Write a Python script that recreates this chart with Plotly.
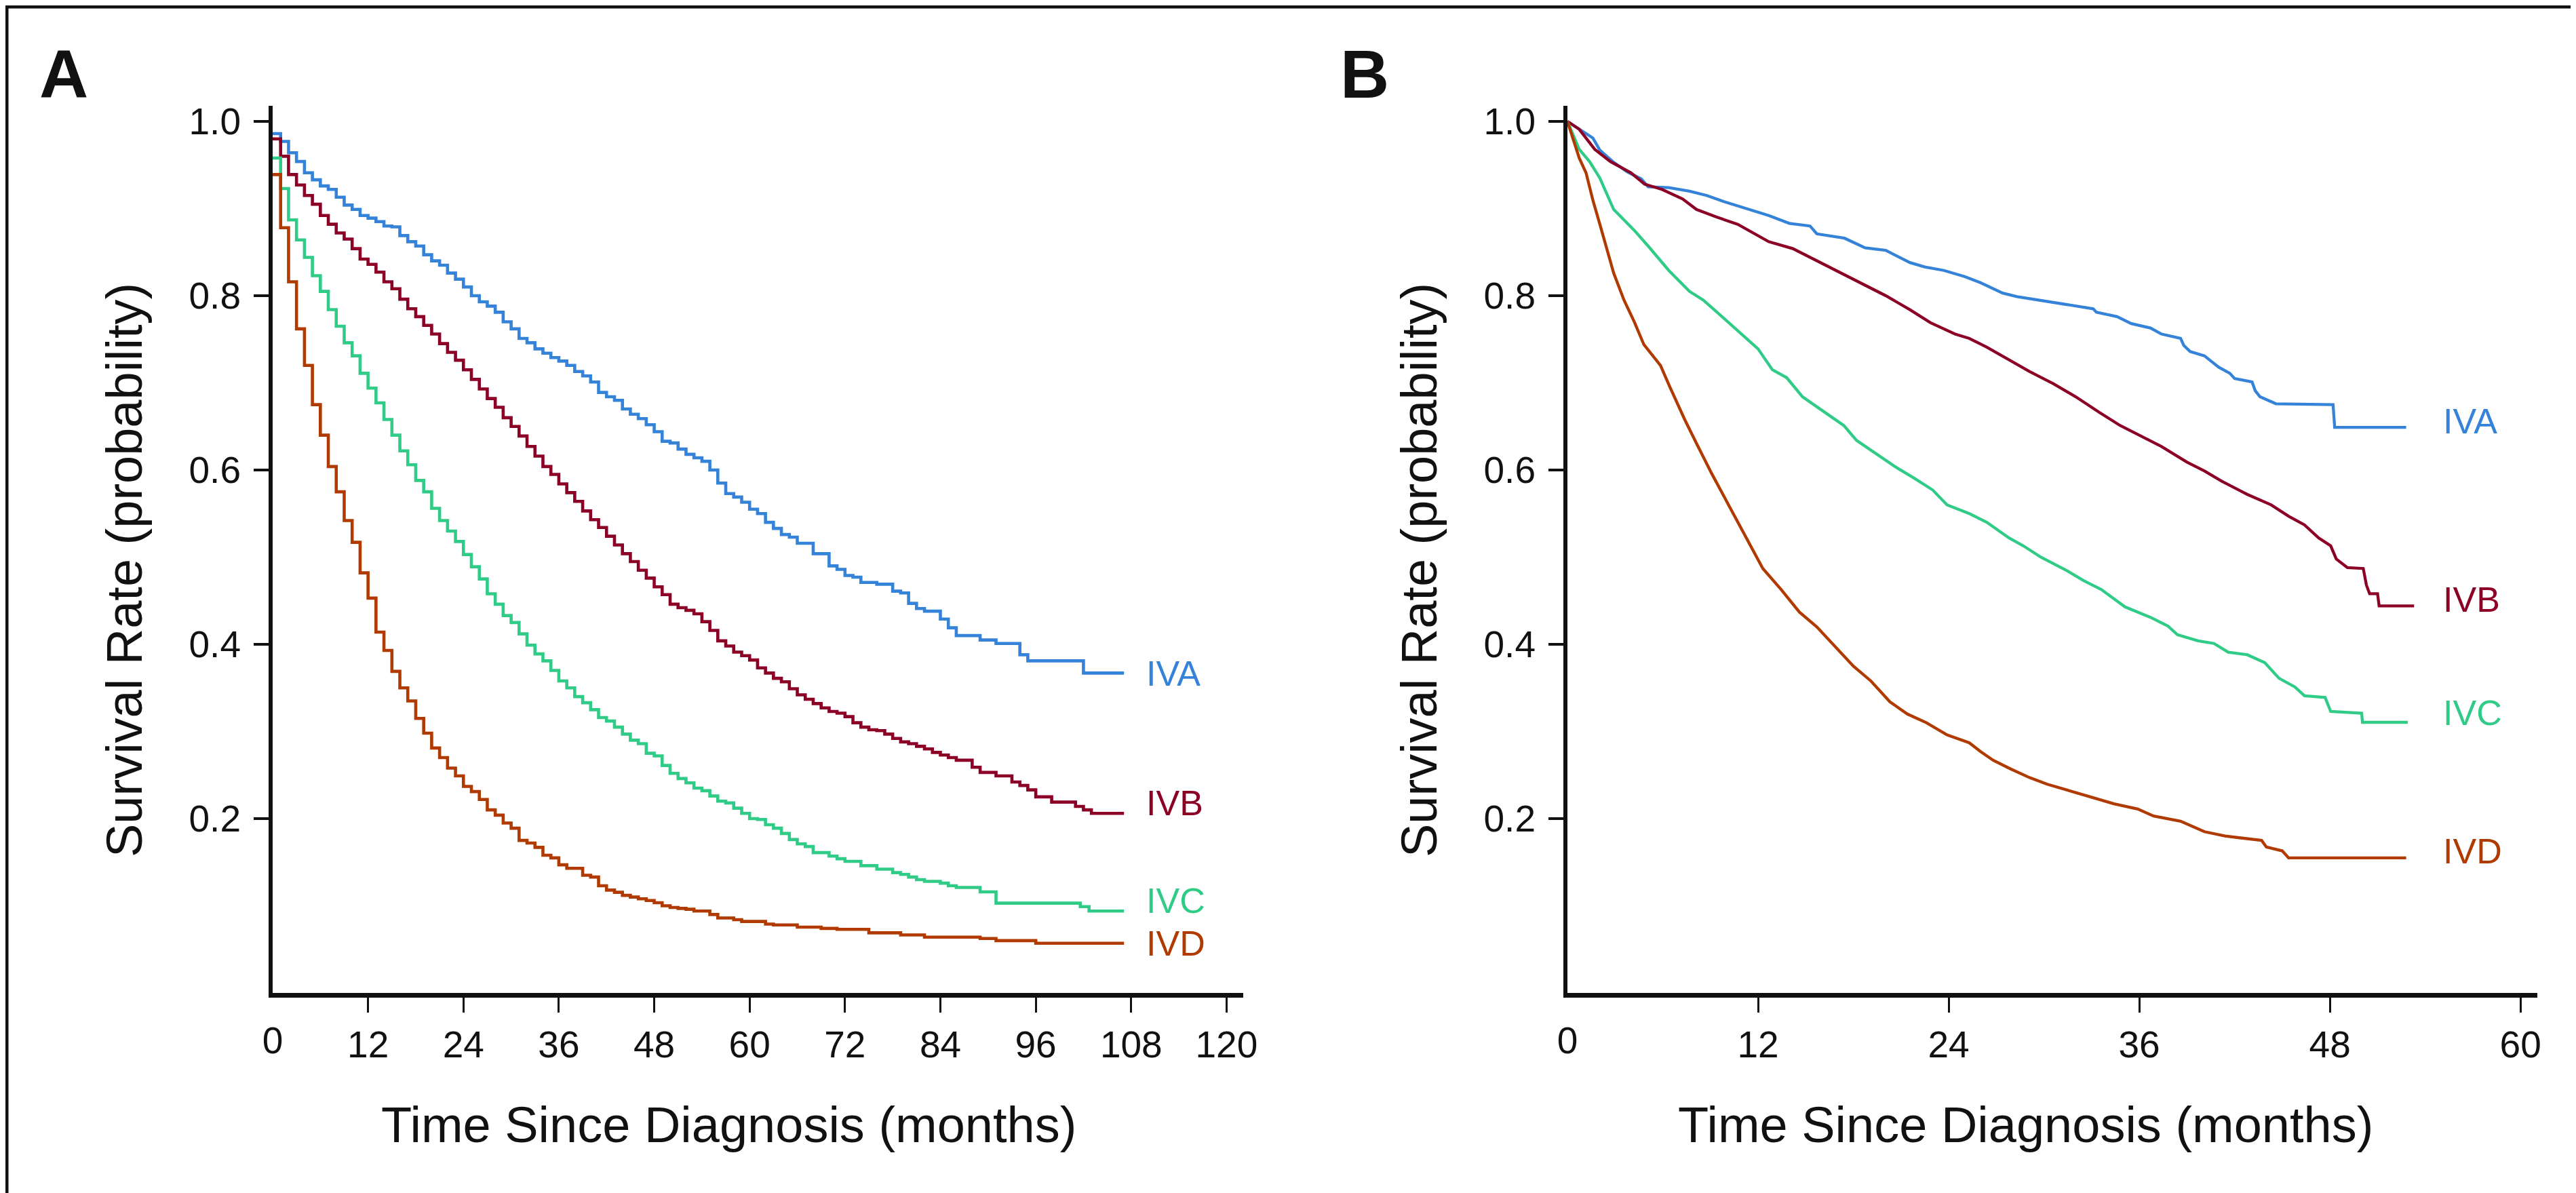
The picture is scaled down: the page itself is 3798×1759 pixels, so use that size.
import plotly.graph_objects as go

W, H = 3798, 1759

# ---------------- Panel A data (Kaplan-Meier steps, months) ----------------
a_iva_t = [0, 1, 2, 3, 4, 5, 6, 7, 8, 9, 10, 11, 12, 13, 14, 15, 16, 17, 18, 19,
           20, 21, 22, 23, 24, 25, 26, 27, 28, 29, 30, 31, 32, 33, 34, 35, 36, 37, 38, 39,
           40, 41, 42, 43, 44, 45, 46, 47, 48, 49, 50, 51, 52, 53,
           54, 55, 56, 57, 58, 59, 60, 61, 62, 63, 64, 65, 66, 68, 70, 71, 72, 73, 74, 76,
           78, 79, 80, 81, 82, 84, 85, 86, 89, 91, 94, 95, 102, 107.1]
a_iva_v = [0.986, 0.977, 0.964, 0.954, 0.941, 0.933, 0.926, 0.922, 0.913, 0.904,
           0.899, 0.892, 0.889, 0.885, 0.880, 0.879, 0.869, 0.862, 0.857, 0.847,
           0.840, 0.835, 0.826, 0.819, 0.810, 0.800, 0.793, 0.788, 0.781, 0.770,
           0.762, 0.751, 0.746, 0.739, 0.734, 0.729, 0.725, 0.720, 0.713, 0.708,
           0.701, 0.689, 0.684, 0.680, 0.670, 0.664, 0.659, 0.652, 0.644, 0.633,
           0.631, 0.624, 0.618, 0.614,
           0.610, 0.600, 0.585, 0.573, 0.569, 0.563, 0.555, 0.550, 0.540, 0.533,
           0.526, 0.523, 0.516, 0.504, 0.490, 0.486, 0.479, 0.477, 0.471, 0.469,
           0.461, 0.459, 0.447, 0.441, 0.438, 0.429, 0.419, 0.410, 0.405, 0.401,
           0.388, 0.381, 0.367, 0.367]

a_ivb_t = [0, 1, 2, 3, 4, 5, 6, 7, 8, 9, 10, 11, 12, 13, 14, 15, 16, 17, 18, 19,
           20, 21, 22, 23, 24, 25, 26, 27, 28, 29, 30, 31, 32, 33, 34, 35, 36, 37, 38, 39,
           40, 41, 42, 43, 44, 45, 46, 47, 48, 49, 50, 51, 52, 53, 54, 55, 56, 57, 58, 59,
           60, 61, 62, 63, 64, 65, 66, 67, 68, 69, 70, 71, 72, 73, 74, 75, 76, 77, 78, 79,
           80, 81, 82, 83, 84, 85, 86, 88, 89, 91, 93, 94, 95, 96, 98, 101, 102, 103, 107.1]
a_ivb_v = [0.980, 0.960, 0.939, 0.927, 0.915, 0.905, 0.892, 0.882, 0.872, 0.865,
           0.854, 0.842, 0.836, 0.827, 0.816, 0.808, 0.796, 0.785, 0.776, 0.766,
           0.756, 0.745, 0.735, 0.726, 0.715, 0.704, 0.693, 0.682, 0.672, 0.660,
           0.650, 0.639, 0.627, 0.616, 0.604, 0.595, 0.584, 0.574, 0.564, 0.553,
           0.543, 0.534, 0.524, 0.514, 0.504, 0.495, 0.485, 0.476, 0.466, 0.457,
           0.446, 0.442, 0.439, 0.435, 0.426, 0.416, 0.404, 0.398, 0.391, 0.387,
           0.382, 0.373, 0.367, 0.361, 0.357, 0.349, 0.342, 0.337, 0.332, 0.327,
           0.323, 0.321, 0.317, 0.310, 0.305, 0.302, 0.301, 0.297, 0.292, 0.288,
           0.286, 0.283, 0.280, 0.276, 0.273, 0.270, 0.267,
           0.259, 0.253, 0.249, 0.242, 0.238, 0.233, 0.225, 0.219, 0.214, 0.210, 0.206, 0.206]

a_ivc_t = [0, 1, 2, 3, 4, 5, 6, 7, 8, 9, 10, 11, 12, 13, 14, 15, 16, 17, 18, 19,
           20, 21, 22, 23, 24, 25, 26, 27, 28, 29, 30, 31, 32, 33, 34, 35, 36, 37, 38, 39,
           40, 41, 42, 43, 44, 45, 46, 47, 48, 49, 50, 51, 52, 53, 54, 55, 56, 57, 58, 59,
           60, 61, 62, 63, 64, 65, 66, 67, 68, 70, 71, 72, 74, 76, 78, 79, 80, 81, 82, 84,
           85, 86, 89, 91, 101.6, 102.7, 107.1]
a_ivc_v = [0.958, 0.923, 0.887, 0.864, 0.844, 0.823, 0.805, 0.784, 0.765, 0.746,
           0.731, 0.711, 0.694, 0.677, 0.658, 0.640, 0.622, 0.606, 0.588, 0.575,
           0.556, 0.542, 0.530, 0.518, 0.503, 0.489, 0.475, 0.458, 0.446, 0.433,
           0.425, 0.412, 0.399, 0.389, 0.381, 0.370, 0.358, 0.350, 0.340, 0.333,
           0.325, 0.316, 0.312, 0.305, 0.297, 0.290, 0.286, 0.275, 0.272, 0.261,
           0.252, 0.246, 0.241, 0.235, 0.232, 0.226, 0.220, 0.218, 0.212, 0.206,
           0.200, 0.199, 0.193, 0.189, 0.183, 0.176, 0.171, 0.168, 0.161, 0.157,
           0.154, 0.151, 0.146, 0.142, 0.138, 0.136, 0.133, 0.130, 0.128, 0.126,
           0.123, 0.121, 0.116, 0.103, 0.099, 0.094, 0.094]

a_ivd_t = [0, 1, 2, 3, 4, 5, 6, 7, 8, 9, 10, 11, 12, 13, 14, 15, 16, 17, 18, 19,
           20, 21, 22, 23, 24, 25, 26, 27, 28, 29, 30, 31, 32, 33, 34, 35, 36, 37, 39,
           40, 41, 42, 43, 44, 45, 46, 47, 48, 49, 50, 51, 52, 53, 55, 56, 58, 59, 62, 63,
           66, 69, 71, 75, 79, 82, 89, 91, 96, 107.1]
a_ivd_v = [0.939, 0.878, 0.816, 0.762, 0.720, 0.675, 0.640, 0.604, 0.575, 0.542,
           0.517, 0.482, 0.453, 0.414, 0.393, 0.369, 0.350, 0.335, 0.315, 0.298,
           0.281, 0.270, 0.258, 0.249, 0.237, 0.231, 0.222, 0.210, 0.204, 0.195,
           0.189, 0.175, 0.172, 0.167, 0.158, 0.155, 0.147, 0.143, 0.135,
           0.133, 0.123, 0.118, 0.1155, 0.112, 0.110, 0.108, 0.106, 0.1035, 0.100,
           0.098, 0.097, 0.096, 0.094, 0.090, 0.086, 0.084, 0.082, 0.079, 0.078,
           0.0755, 0.074, 0.073, 0.069, 0.0665, 0.064, 0.0625, 0.060, 0.057, 0.057]

# ---------------- Panel B data (months) ----------------
b_iva_t = [0, 0.96, 1.6, 2.04, 2.91, 3.78, 4.65, 5.08, 6.38, 7.68, 8.77, 9.85, 11.15, 12.67,
           13.97, 15.27, 15.7, 17.44, 18.74, 20.04, 21.56, 22.5, 23.7, 25.0, 26.0, 27.4, 28.3,
           29.65, 31.4, 33.1, 33.3, 34.6, 35.5, 36.7, 37.4, 38.6, 38.8, 39.2, 40.1, 41.0, 41.7,
           42.0, 43.1, 43.3, 43.6, 44.6, 48.2, 48.3, 52.8]
b_iva_v = [1.0, 0.989, 0.981, 0.967, 0.953, 0.942, 0.934, 0.925, 0.924, 0.920, 0.915, 0.908,
           0.901, 0.892, 0.883, 0.880, 0.871, 0.866, 0.855, 0.852, 0.838, 0.833, 0.829, 0.822,
           0.815, 0.803, 0.799, 0.795, 0.790, 0.785, 0.781, 0.776, 0.768, 0.763, 0.756, 0.751,
           0.743, 0.736, 0.731, 0.718, 0.711, 0.705, 0.701, 0.691, 0.684, 0.676, 0.675, 0.649,
           0.649]

b_ivb_t = [0, 0.74, 1.72, 2.7, 4.0, 4.86, 5.95, 7.25, 8.12, 9.42, 10.72, 12.67, 14.19, 15.92,
           17.22, 18.52, 20.04, 21.56, 22.86, 24.4, 25.3, 26.4, 27.8, 29.1, 30.6, 32.0, 33.5,
           34.8, 36.1, 37.4, 39.0, 40.1, 41.2, 42.8, 44.3, 45.4, 46.4, 47.3, 48.05, 48.4, 49.1,
           50.1, 50.3, 50.5, 51.0, 51.1, 53.3]
b_ivb_v = [1.0, 0.991, 0.968, 0.954, 0.941, 0.928, 0.922, 0.911, 0.899, 0.890, 0.882, 0.862,
           0.854, 0.838, 0.826, 0.814, 0.800, 0.784, 0.769, 0.756, 0.751, 0.741, 0.726, 0.713,
           0.699, 0.684, 0.666, 0.651, 0.639, 0.627, 0.609, 0.599, 0.587, 0.572, 0.560, 0.547,
           0.537, 0.522, 0.513, 0.498, 0.488, 0.487, 0.468, 0.458, 0.458, 0.444, 0.444]

b_ivc_t = [0, 0.74, 1.39, 2.04, 2.91, 4.21, 5.08, 6.38, 7.68, 8.55, 9.42, 10.72, 12.0, 12.9,
           13.8, 14.8, 16.1, 17.4, 18.2, 19.3, 20.7, 21.8, 23.0, 23.9, 25.3, 26.4, 27.8, 28.7,
           29.8, 31.4, 32.5, 33.6, 35.1, 36.7, 37.8, 38.4, 39.7, 40.7, 41.6, 42.8, 43.9, 44.8,
           45.8, 46.4, 47.7, 48.05, 50.0, 50.05, 52.9]
b_ivc_v = [1.0, 0.968, 0.954, 0.935, 0.899, 0.875, 0.857, 0.829, 0.805, 0.795, 0.781, 0.760,
           0.739, 0.715, 0.706, 0.684, 0.668, 0.651, 0.634, 0.620, 0.603, 0.591, 0.577, 0.560,
           0.550, 0.540, 0.522, 0.513, 0.500, 0.485, 0.473, 0.463, 0.443, 0.431, 0.421, 0.411,
           0.404, 0.401, 0.391, 0.388, 0.379, 0.361, 0.351, 0.341, 0.339, 0.323, 0.321, 0.3105,
           0.3105]

b_ivd_t = [0, 0.74, 1.17, 1.61, 2.04, 2.48, 2.91, 3.56, 4.21, 4.81, 5.86, 6.43, 7.38, 8.14,
           9.08, 10.2, 11.17, 12.3, 13.45, 14.6, 15.7, 16.9, 18.0, 19.1, 20.3, 21.4, 22.6, 23.9,
           25.3, 26.0, 26.8, 27.9, 29.1, 30.2, 31.4, 32.7, 34.4, 35.9, 36.9, 38.6, 40.1, 41.4,
           43.7, 44.0, 45.0, 45.4, 52.8]
b_ivd_v = [1.0, 0.958, 0.941, 0.909, 0.882, 0.854, 0.826, 0.795, 0.770, 0.744, 0.720, 0.696,
           0.658, 0.630, 0.596, 0.558, 0.525, 0.487, 0.463, 0.437, 0.420, 0.396, 0.375, 0.358,
           0.334, 0.320, 0.310, 0.296, 0.287, 0.277, 0.267, 0.257, 0.247, 0.2395, 0.233, 0.226,
           0.217, 0.211, 0.203, 0.197, 0.185, 0.180, 0.175, 0.1675, 0.163, 0.155, 0.155]

stages = ["IVA", "IVB", "IVC", "IVD"]
colors = ["#3483D9", "#8C0026", "#30CC87", "#B03A00"]

x_ticks_a = [12, 24, 36, 48, 60, 72, 84, 96, 108, 120]
x_ticks_b = [12, 24, 36, 48, 60]
x_origin_tick = [0]
y_ticks = [0.2, 0.4, 0.6, 0.8, 1.0]
y_tick_text = ["0.2", "0.4", "0.6", "0.8", "1.0"]

x_title = "Time Since Diagnosis (months)"
y_title = "Survival Rate (probability)"

# --------------------------------------------------------------------------
for t, v in [(a_iva_t, a_iva_v), (a_ivb_t, a_ivb_v), (a_ivc_t, a_ivc_v), (a_ivd_t, a_ivd_v),
             (b_iva_t, b_iva_v), (b_ivb_t, b_ivb_v), (b_ivc_t, b_ivc_v), (b_ivd_t, b_ivd_v)]:
    assert len(t) == len(v), (len(t), len(v))


def px(x):
    return x / W


def py(y):
    return 1 - y / H


FONT = "Arial, 'Liberation Sans', Helvetica, sans-serif"
INK = "#111111"

fig = go.Figure()

a_series = [(a_iva_t, a_iva_v), (a_ivb_t, a_ivb_v), (a_ivc_t, a_ivc_v), (a_ivd_t, a_ivd_v)]
b_series = [(b_iva_t, b_iva_v), (b_ivb_t, b_ivb_v), (b_ivc_t, b_ivc_v), (b_ivd_t, b_ivd_v)]

for name, col, (t, v) in zip(stages, colors, a_series):
    fig.add_trace(go.Scatter(x=t, y=v, mode="lines", name=name,
                             line=dict(color=col, width=4.6, shape="hv"),
                             xaxis="x", yaxis="y", showlegend=False, hoverinfo="skip"))
for name, col, (t, v) in zip(stages, colors, b_series):
    fig.add_trace(go.Scatter(x=t, y=v, mode="lines", name=name,
                             line=dict(color=col, width=4.3),
                             xaxis="x2", yaxis="y2", showlegend=False, hoverinfo="skip"))

# invisible carrier traces so the overlay axes (origin "0" label) get drawn
fig.add_trace(go.Scatter(x=a_iva_t[:1], y=a_iva_v[:1], mode="markers",
                         marker=dict(opacity=0, size=1), xaxis="x3", yaxis="y",
                         showlegend=False, hoverinfo="skip"))
fig.add_trace(go.Scatter(x=b_iva_t[:1], y=b_iva_v[:1], mode="markers",
                         marker=dict(opacity=0, size=1), xaxis="x4", yaxis="y2",
                         showlegend=False, hoverinfo="skip"))

# geometry (pixels in the 3798 x 1759 canvas)
A_X0, A_X1 = 394, 1825
B_X0, B_X1 = 2303, 3733
Y_TOP, Y_BOT = 148, 1456
A_PX_PER_MONTH = 11.72
B_PX_PER_MONTH = 23.42
PX_PER_UNIT = 1285.0

y_range = [0, (Y_BOT - Y_TOP) / PX_PER_UNIT]
a_range = [0, (A_X1 - A_X0) / A_PX_PER_MONTH]
b_range = [0, (B_X1 - B_X0) / B_PX_PER_MONTH]

tickfont = dict(family=FONT, size=55, color=INK)
common_x = dict(showgrid=False, zeroline=False, showline=True, linewidth=7, linecolor=INK,
                ticks="outside", ticklen=22, tickwidth=3, tickcolor=INK, automargin=False,
                tickfont=tickfont)
origin_x = dict(showgrid=False, zeroline=False, showline=False, automargin=False,
                ticks="outside", ticklen=22, tickwidth=3, tickcolor="rgba(0,0,0,0)",
                tickvals=x_origin_tick, ticktext=["0"], tickfont=tickfont, side="bottom")
common_y = dict(showgrid=False, zeroline=False, showline=True, linewidth=6, linecolor=INK,
                ticks="outside", ticklen=22, tickwidth=4, tickcolor=INK, automargin=False,
                tickvals=y_ticks, ticktext=y_tick_text, range=y_range,
                ticklabelstandoff=8, tickfont=tickfont)

fig.update_layout(
    width=W, height=H,
    margin=dict(l=0, r=0, t=0, b=0),
    paper_bgcolor="white", plot_bgcolor="white",
    xaxis=dict(domain=[px(A_X0), px(A_X1)], range=a_range,
               tickvals=x_ticks_a, anchor="y", **common_x),
    yaxis=dict(domain=[py(Y_BOT), py(Y_TOP)], anchor="x", **common_y),
    xaxis2=dict(domain=[px(B_X0), px(B_X1)], range=b_range,
                tickvals=x_ticks_b, anchor="y2", **common_x),
    yaxis2=dict(domain=[py(Y_BOT), py(Y_TOP)], anchor="x2", **common_y),
    xaxis3=dict(overlaying="x", anchor="y", range=a_range, **origin_x),
    xaxis4=dict(overlaying="x2", anchor="y2", range=b_range, **origin_x),
)

ann = []
# axis titles
for cx in (1066, 2978):
    ann.append(dict(text=x_title, x=px(cx), y=py(1650), xref="paper", yref="paper",
                    xanchor="center", yanchor="middle", showarrow=False,
                    font=dict(family=FONT, size=74, color=INK)))
for cx in (175, 2084):
    ann.append(dict(text=y_title, x=px(cx), y=py(833), xref="paper", yref="paper",
                    xanchor="center", yanchor="middle", showarrow=False, textangle=-90,
                    font=dict(family=FONT, size=74, color=INK)))
# panel letters
ann.append(dict(text="<b>A</b>", x=px(48), y=py(101), xref="paper", yref="paper",
                xanchor="left", yanchor="middle", showarrow=False,
                font=dict(family=FONT, size=100, color=INK)))
ann.append(dict(text="<b>B</b>", x=px(1966), y=py(101), xref="paper", yref="paper",
                xanchor="left", yanchor="middle", showarrow=False,
                font=dict(family=FONT, size=100, color=INK)))
# curve labels
a_label_y = [985, 1176, 1320, 1383]
b_label_y = [613, 876, 1043, 1247]
for name, col, yy in zip(stages, colors, a_label_y):
    ann.append(dict(text=name, x=px(1680), y=py(yy), xref="paper", yref="paper",
                    xanchor="left", yanchor="middle", showarrow=False,
                    font=dict(family=FONT, size=52, color=col)))
for name, col, yy in zip(stages, colors, b_label_y):
    ann.append(dict(text=name, x=px(3592), y=py(yy), xref="paper", yref="paper",
                    xanchor="left", yanchor="middle", showarrow=False,
                    font=dict(family=FONT, size=52, color=col)))
fig.update_layout(annotations=ann)

# outer frame
fig.add_shape(type="rect", xref="paper", yref="paper", x0=0, y0=0, x1=1, y1=1,
              line=dict(color=INK, width=9), fillcolor="rgba(0,0,0,0)")

fig.write_html("out.html")
